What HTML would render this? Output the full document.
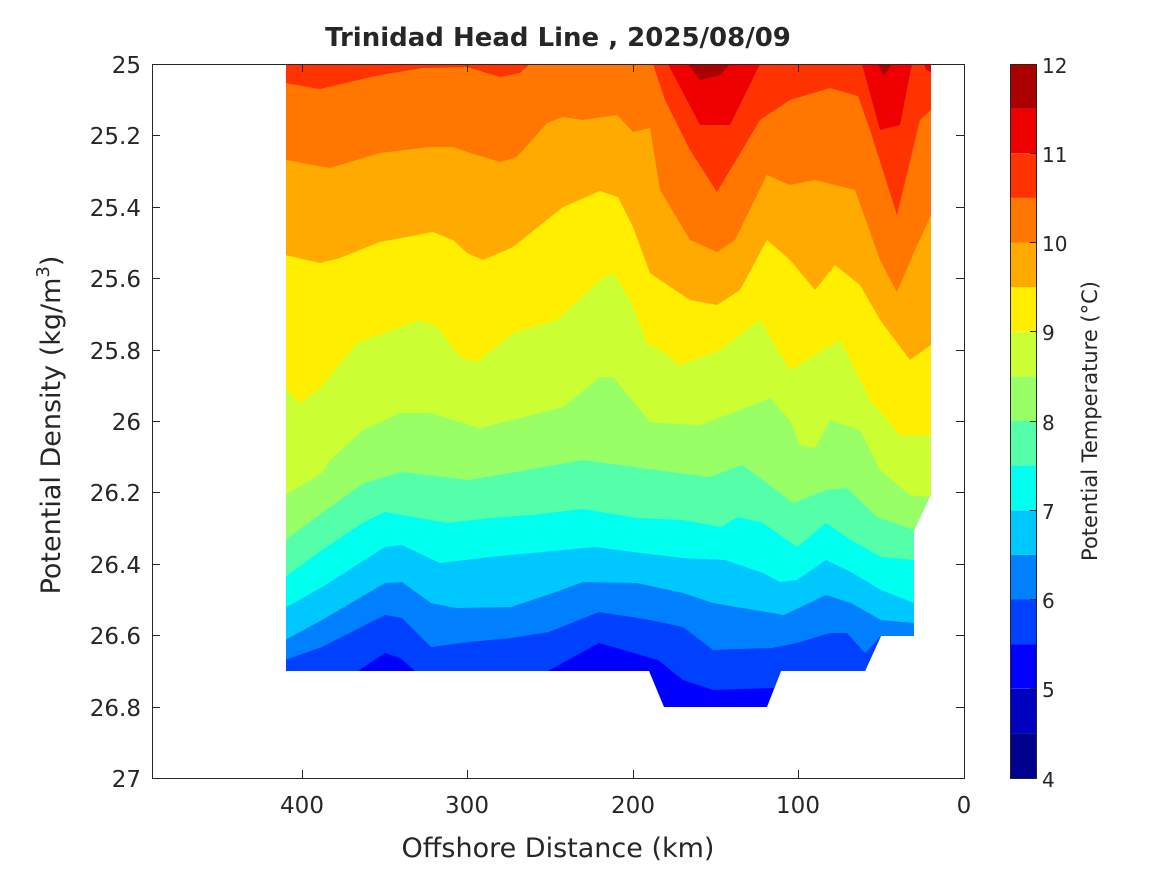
<!DOCTYPE html>
<html><head><meta charset="utf-8"><style>body{margin:0;background:#fff}svg{display:block}text{font-family:"DejaVu Sans","Liberation Sans",sans-serif;fill:#262626}</style></head><body>
<svg width="1167" height="875" viewBox="0 0 1167 875" xmlns="http://www.w3.org/2000/svg">
<defs><clipPath id="c"><polygon points="286,64 931,64 931,494 914,530 914,636 881,636 865,671 781,671 767,707 664,707 649,671 286,671"/></clipPath></defs>
<g clip-path="url(#c)">
<rect x="280" y="60" width="660" height="660" fill="#0000ff"/>
<polygon fill="#0040ff" points="286,64 931,64 931,720 767,720 774,688 713,690 683,680 658,660 599,643 548,671 415,671 400,658 385,653 358,671 286,671"/>
<polygon fill="#0080ff" points="286,64 931,64 931,680 881,680 881,636 865,653 847,633 830,633 797,643 772,648 713,650 683,627 650,620 599,612 549,632 511,638 469,642 431,647 402,618 385,615 322,647 285,660"/>
<polygon fill="#00c8ff" points="286,64 931,64 931,623 914,623 881,620 851,603 826,595 784,615 742,608 713,603 683,593 637,583 583,582 553,593 511,607 456,608 431,603 402,582 385,583 351,603 322,620 285,640"/>
<polygon fill="#00ffee" points="286,64 931,64 931,603 914,603 881,590 851,572 826,560 797,580 780,582 763,573 725,560 683,558 641,553 595,547 532,553 490,557 440,563 402,545 385,547 322,587 285,608"/>
<polygon fill="#55ffaa" points="286,64 931,64 931,560 914,560 881,557 851,540 826,523 797,547 763,523 738,517 721,527 683,520 637,518 583,509 532,515 490,518 448,523 385,512 364,522 322,550 285,577"/>
<polygon fill="#99ff66" points="286,64 931,64 931,530 914,530 877,517 847,488 826,490 793,503 767,483 742,465 709,477 641,468 583,460 515,472 469,480 402,472 364,483 322,513 285,540"/>
<polygon fill="#ccff33" points="286,64 931,64 931,497 910,495 880,470 860,430 830,420 815,448 800,445 790,420 770,398 740,410 700,425 660,423 650,422 613,377 600,377 563,407 520,418 480,428 430,413 400,413 363,430 330,460 322,473 285,495"/>
<polygon fill="#ffee00" points="286,64 931,64 931,435 900,435 870,400 840,340 790,370 760,320 720,350 680,365 660,350 647,343 630,300 613,273 600,280 557,320 513,333 477,362 460,357 437,327 420,320 357,343 320,388 300,403 285,387"/>
<polygon fill="#ffaa00" points="286,64 931,64 931,345 910,360 880,320 860,285 835,265 815,290 790,260 767,240 740,290 717,305 690,300 660,280 650,273 633,227 618,197 600,191 563,207 513,247 483,260 467,253 453,240 433,232 380,242 340,258 320,263 285,255"/>
<polygon fill="#ff7700" points="286,64 931,64 931,215 915,250 897,292 880,260 855,190 815,180 790,185 767,175 735,240 717,252 690,240 660,190 650,128 633,132 617,115 583,120 563,117 547,123 517,157 500,162 467,152 453,147 430,147 380,153 330,168 285,160"/>
<polygon fill="#ff3300" points="286,40 931,40 931,64 530,64 520,73 500,77 467,67 423,68 380,75 320,89 285,83"/>
<polygon fill="#ff3300" points="653,40 653,64 665,100 690,150 717,192 760,120 790,100 830,88 858,96 858,40"/>
<polygon fill="#ff3300" points="855,60 858,96 870,130 897,215 920,120 931,110 931,60"/>
<polygon fill="#ee0000" points="668,64 700,125 730,125 760,64"/>
<polygon fill="#ee0000" points="862,64 880,130 900,125 912,64"/>
<polygon fill="#ee0000" points="924,64 931,64 931,72 926,70"/>
<polygon fill="#aa0000" points="688,64 700,80 720,75 730,64"/>
<polygon fill="#aa0000" points="878,64 884,76 892,64"/>
</g>
<rect x="152.5" y="64.5" width="812" height="714" fill="none" stroke="#262626" stroke-width="1"/>
<g stroke="#262626" stroke-width="1">
<path d="M152,135.5h8M152,207.5h8M152,278.5h8M152,350.5h8M152,421.5h8M152,492.5h8M152,564.5h8M152,635.5h8M152,707.5h8"/>
<path d="M964,135.5h-8M964,207.5h-8M964,278.5h-8M964,350.5h-8M964,421.5h-8M964,492.5h-8M964,564.5h-8M964,635.5h-8M964,707.5h-8"/>
<path d="M302.5,778v-8M467.5,778v-8M633.5,778v-8M798.5,778v-8M302.5,64v8M467.5,64v8M633.5,64v8M798.5,64v8"/>
</g>
<g font-size="23" text-anchor="end">
<text x="141" y="73">25</text><text x="141" y="144">25.2</text><text x="141" y="216">25.4</text><text x="141" y="287">25.6</text><text x="141" y="359">25.8</text><text x="141" y="430">26</text><text x="141" y="501">26.2</text><text x="141" y="573">26.4</text><text x="141" y="644">26.6</text><text x="141" y="716">26.8</text><text x="141" y="787">27</text>
</g>
<g font-size="23" text-anchor="middle">
<text x="302" y="813">400</text><text x="467" y="813">300</text><text x="633" y="813">200</text><text x="798" y="813">100</text><text x="964" y="813">0</text>
<text x="558" y="857" font-size="27">Offshore Distance (km)</text>
<text x="558" y="46" font-size="26" font-weight="bold" fill="#000">Trinidad Head Line , 2025/08/09</text>
</g>
<text transform="translate(60,425) rotate(-90)" font-size="27" text-anchor="middle">Potential Density (kg/m<tspan font-size="18" dy="-11">3</tspan><tspan dy="11">)</tspan></text>
<g>
<rect x="1010" y="733.4" width="26" height="44.6" fill="#00008f"/>
<rect x="1010" y="688.8" width="26" height="44.6" fill="#0000bf"/>
<rect x="1010" y="644.1" width="26" height="44.6" fill="#0000ff"/>
<rect x="1010" y="599.5" width="26" height="44.6" fill="#0040ff"/>
<rect x="1010" y="554.9" width="26" height="44.6" fill="#0080ff"/>
<rect x="1010" y="510.3" width="26" height="44.6" fill="#00c8ff"/>
<rect x="1010" y="465.6" width="26" height="44.6" fill="#00ffee"/>
<rect x="1010" y="421" width="26" height="44.6" fill="#55ffaa"/>
<rect x="1010" y="376.4" width="26" height="44.6" fill="#99ff66"/>
<rect x="1010" y="331.8" width="26" height="44.6" fill="#ccff33"/>
<rect x="1010" y="287.1" width="26" height="44.6" fill="#ffee00"/>
<rect x="1010" y="242.5" width="26" height="44.6" fill="#ffaa00"/>
<rect x="1010" y="197.9" width="26" height="44.6" fill="#ff7700"/>
<rect x="1010" y="153.3" width="26" height="44.6" fill="#ff3300"/>
<rect x="1010" y="108.6" width="26" height="44.6" fill="#ee0000"/>
<rect x="1010" y="64" width="26" height="44.6" fill="#aa0000"/>
<rect x="1010.5" y="64.5" width="26" height="714" fill="none" stroke="#262626"/>
<g stroke="#262626"><path d="M1030,153.5h6M1030,242.5h6M1030,331.5h6M1030,421.5h6M1030,510.5h6M1030,599.5h6M1030,688.5h6"/></g>
<g font-size="20"><text x="1042" y="73">12</text><text x="1042" y="162">11</text><text x="1042" y="251">10</text><text x="1042" y="340">9</text><text x="1042" y="430">8</text><text x="1042" y="519">7</text><text x="1042" y="608">6</text><text x="1042" y="697">5</text><text x="1042" y="787">4</text></g>
<text transform="translate(1097,421) rotate(-90)" font-size="21" text-anchor="middle">Potential Temperature (°C)</text>
</g>
</svg>
</body></html>
